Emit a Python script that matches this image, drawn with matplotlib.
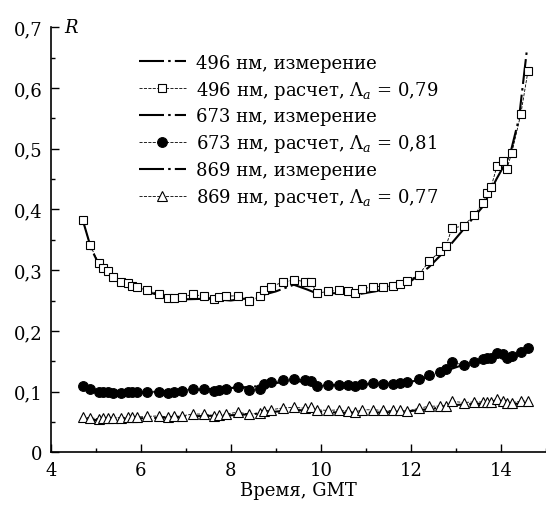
import matplotlib
matplotlib.use("Agg")
import matplotlib.pyplot as plt
from matplotlib.ticker import MultipleLocator, FuncFormatter

plt.rcParams['font.family'] = ['DejaVu Serif']
plt.rcParams['mathtext.fontset'] = 'dejavuserif'

# calculation times (hours GMT)
t_calc = [4.71, 4.87, 5.07, 5.17, 5.28, 5.39, 5.56, 5.72, 5.80, 5.91,
          6.13, 6.41, 6.61, 6.74, 6.91, 7.16, 7.41, 7.63, 7.74, 7.89,
          8.15, 8.41, 8.65, 8.74, 8.89, 9.15, 9.41, 9.65, 9.78, 9.91,
          10.16, 10.41, 10.61, 10.76, 10.91, 11.16, 11.39, 11.61, 11.76, 11.91,
          12.17, 12.41, 12.65, 12.78, 12.91, 13.17, 13.41, 13.60, 13.70, 13.78,
          13.91, 14.04, 14.13, 14.24, 14.44, 14.60]

r496_calc = [0.383, 0.342, 0.311, 0.303, 0.298, 0.288, 0.281, 0.279, 0.274, 0.272,
             0.267, 0.261, 0.254, 0.254, 0.256, 0.260, 0.257, 0.253, 0.255, 0.257,
             0.258, 0.249, 0.257, 0.267, 0.273, 0.280, 0.284, 0.281, 0.281, 0.262,
             0.265, 0.267, 0.266, 0.263, 0.269, 0.273, 0.273, 0.274, 0.277, 0.282,
             0.292, 0.315, 0.331, 0.340, 0.369, 0.373, 0.391, 0.411, 0.427, 0.437,
             0.471, 0.479, 0.467, 0.493, 0.557, 0.628]

r673_calc = [0.110, 0.104, 0.099, 0.099, 0.099, 0.098, 0.097, 0.099, 0.100, 0.099,
             0.099, 0.100, 0.097, 0.099, 0.101, 0.105, 0.104, 0.101, 0.103, 0.105,
             0.107, 0.103, 0.105, 0.112, 0.115, 0.119, 0.121, 0.119, 0.118, 0.109,
             0.111, 0.111, 0.111, 0.110, 0.113, 0.114, 0.113, 0.113, 0.114, 0.115,
             0.120, 0.127, 0.133, 0.137, 0.148, 0.144, 0.148, 0.153, 0.156, 0.156,
             0.163, 0.162, 0.155, 0.158, 0.166, 0.172]

r869_calc = [0.058, 0.057, 0.055, 0.056, 0.056, 0.057, 0.057, 0.058, 0.058, 0.058,
             0.059, 0.060, 0.058, 0.059, 0.060, 0.063, 0.063, 0.060, 0.061, 0.063,
             0.066, 0.063, 0.064, 0.0675, 0.070, 0.073, 0.074, 0.0725, 0.074, 0.070,
             0.069, 0.070, 0.0675, 0.066, 0.070, 0.070, 0.069, 0.069, 0.069, 0.0675,
             0.0725, 0.076, 0.076, 0.077, 0.084, 0.082, 0.083, 0.083, 0.083, 0.083,
             0.088, 0.085, 0.081, 0.082, 0.084, 0.085]

# measurements
t496_meas = [4.71, 4.9, 5.1, 5.3, 5.5, 5.8, 6.1, 6.5, 7.0, 7.5, 8.0, 8.5, 9.0, 9.4,
             9.7, 9.9, 10.3, 10.8, 11.2, 11.6, 12.0, 12.4, 12.8, 13.2, 13.6, 13.9,
             14.2, 14.4, 14.57]
r496_meas = [0.383, 0.335, 0.305, 0.292, 0.282, 0.273, 0.265, 0.257, 0.252, 0.253,
             0.250, 0.255, 0.265, 0.276, 0.268, 0.262, 0.262, 0.260, 0.265, 0.272,
             0.282, 0.305, 0.335, 0.370, 0.405, 0.450, 0.490, 0.550, 0.659]

t673_meas = [4.71, 5.0, 5.5, 6.0, 6.5, 7.0, 7.5, 8.0, 8.5, 9.0, 9.4, 9.8, 10.2, 10.6,
             11.0, 11.5, 12.0, 12.4, 12.8, 13.2, 13.6, 14.0, 14.3, 14.6]
r673_meas = [0.108, 0.100, 0.098, 0.099, 0.100, 0.102, 0.104, 0.106, 0.108, 0.114,
             0.118, 0.114, 0.111, 0.111, 0.112, 0.113, 0.116, 0.124, 0.135, 0.145,
             0.150, 0.158, 0.160, 0.168]

t869_meas = [4.71, 5.0, 5.5, 6.0, 6.5, 7.0, 7.5, 8.0, 8.5, 9.0, 9.4, 9.8, 10.2, 10.6,
             11.0, 11.5, 12.0, 12.5, 13.0, 13.5, 14.0, 14.6]
r869_meas = [0.055, 0.053, 0.054, 0.056, 0.057, 0.059, 0.060, 0.061, 0.063, 0.067,
             0.070, 0.068, 0.066, 0.065, 0.065, 0.066, 0.068, 0.072, 0.078, 0.080,
             0.080, 0.080]

labels = ["496 нм, измерение",
          "496 нм, расчет, $\\Lambda_a$ = 0,79",
          "673 нм, измерение",
          "673 нм, расчет, $\\Lambda_a$ = 0,81",
          "869 нм, измерение",
          "869 нм, расчет, $\\Lambda_a$ = 0,77"]

fig = plt.figure(figsize=(5.46, 5.10), dpi=100)
ax = fig.add_axes([50.7 / 546, 1 - 453.3 / 510, 1 - 50.7 / 546, (453.3 - 28.3) / 510])

meas_ls = (0, (12, 2, 1.2, 2))
calc_kw = dict(color='black', linestyle='--', linewidth=0.6, markeredgewidth=0.8)

l1, = ax.plot(t496_meas, r496_meas, color='black', linestyle=meas_ls, linewidth=1.5, zorder=2)
c1, = ax.plot(t_calc, r496_calc, marker='s', markersize=6.3, markerfacecolor='white',
              markeredgecolor='black', zorder=3, **calc_kw)
l2, = ax.plot(t673_meas, r673_meas, color='black', linestyle=meas_ls, linewidth=1.5, zorder=2)
c2, = ax.plot(t_calc, r673_calc, marker='o', markersize=7, markerfacecolor='black',
              markeredgecolor='black', zorder=3, **calc_kw)
l3, = ax.plot(t869_meas, r869_meas, color='black', linestyle=meas_ls, linewidth=1.5, zorder=2)
c3, = ax.plot(t_calc, r869_calc, marker='^', markersize=7, markerfacecolor='white',
              markeredgecolor='black', zorder=3, **calc_kw)

ax.set_xlim(4, 15)
ax.set_ylim(0, 0.7)
ax.spines['top'].set_visible(False)
ax.spines['right'].set_visible(False)
ax.spines['left'].set_linewidth(1.2)
ax.spines['bottom'].set_linewidth(1.2)

ax.xaxis.set_major_locator(MultipleLocator(2))
ax.xaxis.set_minor_locator(MultipleLocator(1))
ax.yaxis.set_major_locator(MultipleLocator(0.1))
ax.yaxis.set_minor_locator(MultipleLocator(0.05))
ax.yaxis.set_major_formatter(FuncFormatter(
    lambda v, p: "0" if abs(v) < 1e-9 else ("%.1f" % v).replace('.', ',')))
ax.tick_params(which='major', direction='in', length=6, width=1.0, labelsize=13, pad=6)
ax.tick_params(which='minor', direction='in', length=3, width=1.0)

ax.set_xlabel("Время, GMT", fontsize=13, labelpad=2)
ax.text(4.45, 0.7, "R", fontsize=13, style='italic', ha='center', va='center')

ax.legend([l1, c1, l2, c2, l3, c3], labels, loc='upper left',
          bbox_to_anchor=(0.178, 0.938), frameon=False, fontsize=13,
          handlelength=2.6, handletextpad=0.55, labelspacing=0.38,
          borderpad=0, borderaxespad=0)

fig.savefig("out.png", dpi=100)
